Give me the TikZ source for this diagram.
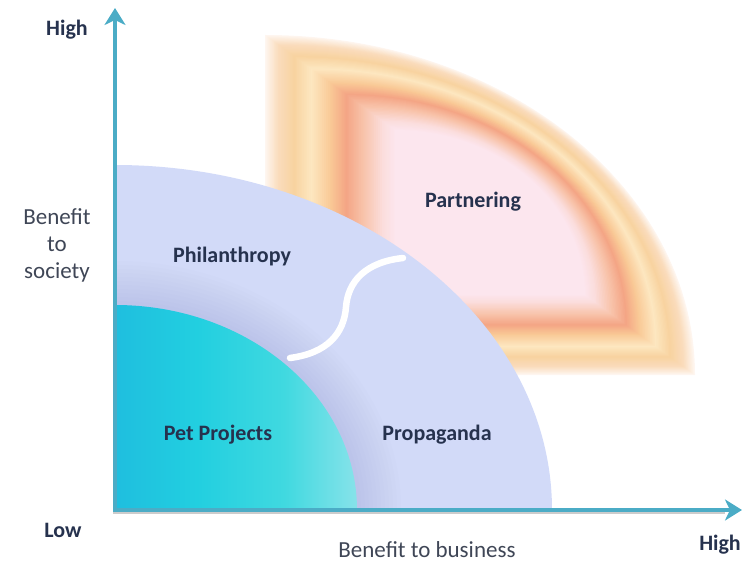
\documentclass[tikz,border=0pt]{standalone}
\usepackage{fontspec}
\setmainfont{Carlito}
\usepackage{xcolor}
\usetikzlibrary{arrows.meta}

\definecolor{axisblue}{HTML}{4BACC6}
\definecolor{txtnavy}{HTML}{26324E}
\definecolor{txtgray}{HTML}{3F4656}
\definecolor{lavender}{HTML}{D2DAF8}
\definecolor{lavshade}{HTML}{9AA2D6}
\definecolor{bandA}{HTML}{FEF6F0}
\definecolor{bandB}{HTML}{FADCBC}
\definecolor{bandC}{HTML}{F8D3A0}
\definecolor{bandD}{HTML}{FDE7C0}
\definecolor{bandE}{HTML}{F9C996}
\definecolor{bandF}{HTML}{F4A585}
\definecolor{bandG}{HTML}{F8C3AA}
\definecolor{bandH}{HTML}{FBDDDC}
\definecolor{bandI}{HTML}{FCE6EE}
\definecolor{petA}{HTML}{1AA6DD}
\definecolor{petB}{HTML}{22CFE0}
\definecolor{petC}{HTML}{40D9E0}
\definecolor{petD}{HTML}{A8E7EE}
\definecolor{petE}{HTML}{DAF2F4}

\pgfdeclarehorizontalshading{petshade}{100bp}{color(0bp)=(petA); color(42bp)=(petB); color(60bp)=(petC); color(82bp)=(petD); color(100bp)=(petE)}

\tikzset{
  axis/.style={draw=axisblue, line width=4pt, -{Stealth[length=17pt,width=21pt,inset=5pt]}},
  lbl/.style={text=txtnavy, font=\fontsize{22}{26}\selectfont\bfseries},
  ttl/.style={text=txtgray, font=\fontsize{23}{27}\selectfont, align=center},
}

\begin{document}
\begin{tikzpicture}[x=1pt, y=1pt]
  \useasboundingbox (0,0) rectangle (743,565);

  % Partnering glow, outer edge inwards
  \foreach \sa/\sb/\ca/\cb in {0/0.1/bandA/bandB, 0.1/0.22/bandB/bandC, 0.22/0.35/bandC/bandD,
      0.35/0.5/bandD/bandE, 0.5/0.62/bandE/bandF, 0.62/0.75/bandF/bandG,
      0.75/0.9/bandG/bandH, 0.9/1/bandH/bandI}{
    \foreach \k in {0,...,9}{
      \pgfmathsetmacro\s{\sa+(\sb-\sa)*\k/10}
      \pgfmathtruncatemacro\m{100*\k/10}
      \colorlet{bandnow}{\cb!\m!\ca}
      \fill[bandnow] ({265+130*\s},{190+80*\s}) -- ({265+130*\s},{530-95*\s})
        arc[start angle=90, end angle=0, x radius={430-240*\s}, y radius={340-175*\s}] -- cycle;
    }
  }
  \fill[bandI] (395,270) -- (395,435)
    arc[start angle=90, end angle=0, x radius=190, y radius=165] -- cycle;

  % Philanthropy / Propaganda quarter
  \coordinate (origin) at (115,55);
  \fill[lavender] (origin) -- (115,400)
    arc[start angle=90, end angle=0, x radius=437, y radius=345] -- cycle;

  % soft shadow round the inner quarter
  \foreach \d in {44,40,...,2}{
    \fill[lavshade, opacity=0.035] (origin) -- (115,{260+\d})
      arc[start angle=90, end angle=0, x radius={242+\d}, y radius={205+\d}] -- cycle;
  }

  % Pet Projects quarter
  \shade[shading=petshade] (origin) -- (115,260)
    arc[start angle=90, end angle=0, x radius=242, y radius=205] -- cycle;

  % white divider
  \coordinate (divlow) at (290,207);
  \coordinate (divmid) at (346,258);
  \coordinate (divhigh) at (403,307);
  \draw[white, line width=6.5pt, line cap=round] (divlow) .. controls (328,212) and (344,232) .. (divmid)
    .. controls (348,284) and (366,303) .. (divhigh);

  % axes
  \coordinate (ytip) at (115,557);
  \coordinate (xtip) at (742,55);
  \draw[draw=black!40, opacity=0.5, line width=2pt] (113,52) -- (725,52);
  \draw[axis] (113,55) -- (xtip);
  \draw[axis] (origin) -- (ytip);

  % labels
  \node[lbl] (partner) at (473,363) {Partnering};
  \node[lbl] (phil) at (232,308) {Philanthropy};
  \node[lbl] (pet) at (218,130) {Pet Projects};
  \node[lbl] (prop) at (437,130) {Propaganda};

  \node[lbl] (yhigh) at (67,535) {High};
  \node[lbl] (low) at (63,35) {Low};
  \node[lbl] (xhigh) at (720,20) {High};
  \node[ttl] (society) at (57,320) {Benefit\\to\\society};
  \node[ttl] (business) at (427,15) {Benefit to business};
\end{tikzpicture}
\end{document}
